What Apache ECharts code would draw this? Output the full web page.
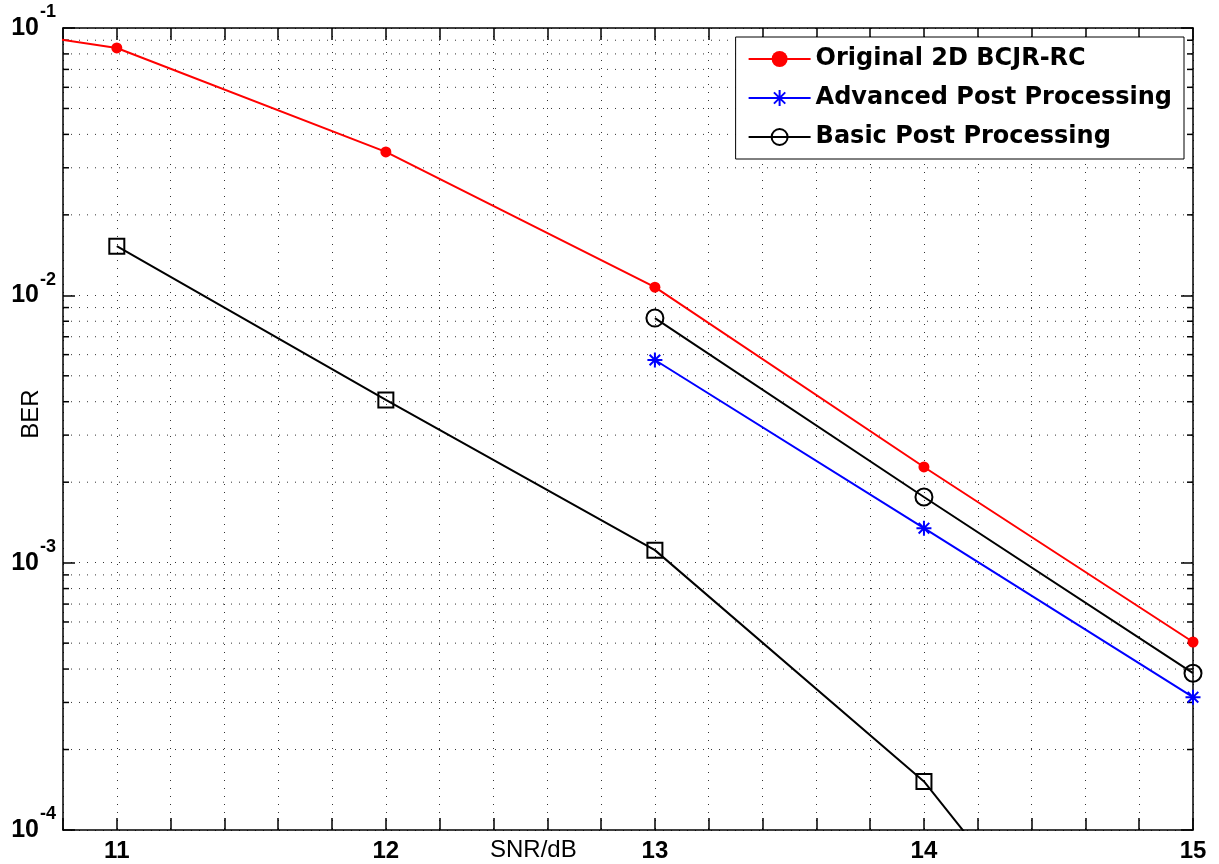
<!DOCTYPE html>
<html>
<head>
<meta charset="utf-8">
<script src="https://cdn.jsdelivr.net/npm/echarts@6/dist/echarts.min.js"></script>
<style>
  html, body { margin: 0; padding: 0; background: #fff; }
  #chart { width: 1219px; height: 864px; }
</style>
</head>
<body>
<div id="chart"></div>
<script>
// SNR axis range and tick step (dB)
const snrMin = 10.8;
const snrMax = 15;
const snrStep = 0.2;

// BER axis (log scale) limits and the decade exponents that carry labels
const berMin = 1e-4;
const berMax = 1e-1;
const decadeExponents = [-4, -3, -2, -1];
const minorMantissas = [2, 3, 4, 5, 6, 7, 8, 9];

// Series: Original 2D BCJR-RC (first point lies just left of the visible range)
const originalSnr = [10.5, 11, 12, 13, 14, 15];
const originalBer = [0.1, 0.0842, 0.0344, 0.01073, 0.00228, 0.000505];

// Series: Advanced Post Processing
const advancedSnr = [13, 14, 15];
const advancedBer = [0.00573, 0.001346, 0.000314];

// Series: Basic Post Processing
const basicSnr = [13, 14, 15];
const basicBer = [0.00822, 0.00176, 0.000386];

// Unlabelled reference curve (square markers)
const squareSnr = [11, 12, 13, 14, 15];
const squareBer = [0.01527, 0.00406, 0.001114, 0.000152, 0.0000083];

const seriesNames = ['Original 2D BCJR-RC', 'Advanced Post Processing', 'Basic Post Processing'];
const xAxisTitle = 'SNR/dB';
const yAxisTitle = 'BER';

const pairs = (xs, ys) => xs.map((x, i) => [x, ys[i]]);

// minor log grid values 2..9 x 10^k inside the range
const minorValues = [];
decadeExponents.slice(0, -1).forEach(function (e) {
  minorMantissas.forEach(function (m) { minorValues.push(m * Math.pow(10, e)); });
});

const dotted = { color: '#333', width: 1, type: [1, 7] };
const tickFont = { fontFamily: 'Liberation Sans, Arial, sans-serif', fontWeight: 'bold' };

const chart = echarts.init(document.getElementById('chart'), null, { renderer: 'canvas' });

const asteriskPath = 'path://M0,-10L0,10M-10,0L10,0M-7.07,-7.07L7.07,7.07M-7.07,7.07L7.07,-7.07';

chart.setOption({
  backgroundColor: '#fff',
  animation: false,
  grid: { left: 63, right: 26, top: 28, bottom: 34, containLabel: false, outerBoundsMode: 'none' },
  legend: {
    data: seriesNames,
    orient: 'vertical',
    right: 35,
    top: 37,
    padding: [10, 12, 10, 12],
    itemWidth: 62,
    itemHeight: 20,
    itemGap: 15,
    backgroundColor: '#fff',
    borderColor: '#000',
    borderWidth: 1,
    borderRadius: 0,
    textStyle: {
      fontFamily: 'DejaVu Sans, sans-serif',
      fontWeight: 'bold',
      fontSize: 24,
      lineHeight: 20,
      color: '#000'
    }
  },
  xAxis: [
    {
      type: 'value',
      min: snrMin,
      max: snrMax,
      interval: snrStep,
      position: 'bottom',
      axisLine: { show: true, onZero: false, lineStyle: { color: '#000', width: 1.5 } },
      axisTick: { show: true, inside: true, length: 12, lineStyle: { color: '#000', width: 1.5 } },
      axisLabel: {
        show: true,
        margin: 9,
        color: '#000',
        fontSize: 24,
        ...tickFont,
        formatter: function (v) {
          const r = Math.round(v);
          return Math.abs(v - r) < 1e-6 ? String(r) : '';
        }
      },
      splitLine: { show: true, lineStyle: dotted }
    },
    {
      type: 'value',
      min: snrMin,
      max: snrMax,
      interval: snrStep,
      position: 'top',
      axisLine: { show: true, onZero: false, lineStyle: { color: '#000', width: 1.5 } },
      axisTick: { show: true, inside: true, length: 12, lineStyle: { color: '#000', width: 1.5 } },
      axisLabel: { show: false },
      splitLine: { show: false }
    }
  ],
  yAxis: [
    {
      type: 'log',
      logBase: 10,
      min: berMin,
      max: berMax,
      position: 'left',
      name: yAxisTitle,
      nameLocation: 'middle',
      nameGap: 20,
      nameRotate: 90,
      nameMoveOverlap: false,
      nameTextStyle: {
        fontFamily: 'Liberation Sans, Arial, sans-serif',
        fontSize: 24,
        color: '#000',
        padding: [0, 0, 0, 30]
      },
      axisLine: { show: true, onZero: false, lineStyle: { color: '#000', width: 1.5 } },
      axisTick: { show: true, inside: true, length: 12, lineStyle: { color: '#000', width: 1.5 } },
      axisLabel: {
        show: true,
        margin: 7,
        color: '#000',
        formatter: function (v) {
          const e = Math.round(Math.log10(v));
          return '{b|10}{s|' + e + '}';
        },
        rich: {
          b: { ...tickFont, fontSize: 25, lineHeight: 25, padding: [12, 0, 12, 0], color: '#000' },
          s: { ...tickFont, fontSize: 18, lineHeight: 18, padding: [0, 0, 31, 1], color: '#000' }
        }
      },
      splitLine: { show: true, lineStyle: dotted }
    },
    {
      type: 'log',
      logBase: 10,
      min: berMin,
      max: berMax,
      position: 'right',
      axisLine: { show: true, onZero: false, lineStyle: { color: '#000', width: 1.5 } },
      axisTick: { show: true, inside: true, length: 12, lineStyle: { color: '#000', width: 1.5 } },
      axisLabel: { show: false },
      splitLine: { show: false }
    }
  ],
  graphic: [
    {
      type: 'text',
      left: 490,
      top: 838,
      style: {
        text: xAxisTitle,
        fontFamily: 'Liberation Sans, Arial, sans-serif',
        fontSize: 24,
        fill: '#000'
      }
    }
  ],
  series: [
    {
      // minor log grid lines and the short minor ticks on both vertical edges
      type: 'custom',
      silent: true,
      z: 1,
      xAxisIndex: 0,
      yAxisIndex: 0,
      data: minorValues.map(v => [snrMin, v]),
      renderItem: function (params, api) {
        const cs = params.coordSys;
        const y = api.coord([snrMin, api.value(1)])[1];
        return {
          type: 'group',
          children: [
            { type: 'line', shape: { x1: cs.x, y1: y, x2: cs.x + cs.width, y2: y },
              style: { stroke: '#333', lineWidth: 1, lineDash: [1, 7] } },
            { type: 'line', shape: { x1: cs.x, y1: y, x2: cs.x + 6, y2: y },
              style: { stroke: '#000', lineWidth: 1.5 } },
            { type: 'line', shape: { x1: cs.x + cs.width - 6, y1: y, x2: cs.x + cs.width, y2: y },
              style: { stroke: '#000', lineWidth: 1.5 } }
          ]
        };
      }
    },
    {
      name: 'reference',
      type: 'line',
      z: 3,
      data: pairs(squareSnr, squareBer),
      symbol: 'rect',
      symbolSize: 15,
      clip: true,
      lineStyle: { color: '#000', width: 2 },
      itemStyle: { color: 'rgba(0,0,0,0)', borderColor: '#000', borderWidth: 2 }
    },
    {
      name: seriesNames[0],
      type: 'line',
      z: 4,
      data: pairs(originalSnr, originalBer),
      symbol: 'circle',
      symbolSize: 11,
      clip: true,
      color: '#ff0000',
      lineStyle: { color: '#ff0000', width: 2 },
      itemStyle: { color: '#ff0000' }
    },
    {
      name: seriesNames[1],
      type: 'line',
      z: 4,
      data: pairs(advancedSnr, advancedBer),
      symbol: asteriskPath,
      symbolSize: 15,
      clip: false,
      color: '#0000ff',
      lineStyle: { color: '#0000ff', width: 2 },
      itemStyle: { color: '#0000ff', borderColor: '#0000ff', borderWidth: 2 }
    },
    {
      name: seriesNames[2],
      type: 'line',
      z: 4,
      data: pairs(basicSnr, basicBer),
      symbol: 'circle',
      symbolSize: 17,
      clip: false,
      color: '#000',
      lineStyle: { color: '#000', width: 2 },
      itemStyle: { color: 'rgba(0,0,0,0)', borderColor: '#000', borderWidth: 2 }
    }
  ]
});
</script>
</body>
</html>
